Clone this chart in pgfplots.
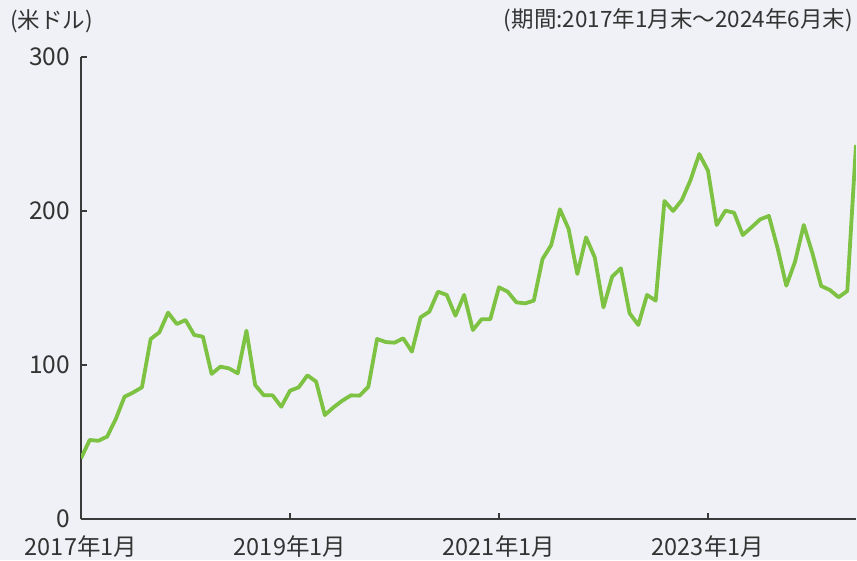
\documentclass[border=0pt]{standalone}
\usepackage{fontspec}
\setmainfont{Noto Sans CJK JP}
\usepackage{pgfplots}
\pgfplotsset{compat=1.18}
\definecolor{bg}{RGB}{240,241,246}
\definecolor{linegreen}{RGB}{125,194,66}
\definecolor{txt}{RGB}{51,51,51}
\definecolor{axiscol}{RGB}{58,58,58}
\begin{document}
\begin{tikzpicture}[x=1pt,y=1pt]
\useasboundingbox (0,0) rectangle (857,560);
\fill[bg] (0,0) rectangle (857,560);
\node[anchor=west,inner sep=0pt,text=txt,font=\fontsize{22.5}{26}\selectfont] at (10,539) {(米ドル)};
\node[anchor=east,inner sep=0pt,text=txt,font=\fontsize{22.5}{26}\selectfont] at (853,540) {(期間:2017年1月末～2024年6月末)};
\begin{axis}[
  at={(81pt,41pt)}, anchor=south west,
  scale only axis, width=775pt, height=462pt,
  xmin=0, xmax=89, ymin=0, ymax=300,
  axis lines*=left,
  axis line style={axiscol, line width=1.3pt},
  tick style={axiscol, line width=1.1pt},
  tick align=inside, major tick length=6pt,
  ytick={0,100,200,300},
  xtick={0,24,48,72},
  xticklabels={2017年1月,2019年1月,2021年1月,2023年1月},
  /pgf/number format/assume math mode=true,
  yticklabel style={text=txt, font=\fontsize{24.5}{28}\selectfont, inner sep=0pt, xshift=-11pt},
  xticklabel style={text=txt, font=\fontsize{23.5}{28}\selectfont, anchor=base, inner sep=0pt, yshift=-36pt},
]
\addplot[linegreen, line width=3.8pt, line join=round] table {
0 39.4
1 51.3
2 50.8
3 53.5
4 65
5 79.4
6 82.2
7 85.5
8 116.9
9 121.2
10 134
11 126.6
12 129.2
13 119.5
14 118.4
15 94.2
16 98.9
17 97.8
18 94.6
19 122.3
20 87
21 80.3
22 80.3
23 72.9
24 83.3
25 85.5
26 93.3
27 89.2
28 67.5
29 72.5
30 76.8
31 80.3
32 80.1
33 85.9
34 116.9
35 114.9
36 114.5
37 117.3
38 108.7
39 131
40 134.6
41 147.6
42 145.5
43 132
44 145.5
45 122.7
46 129.7
47 129.7
48 150.5
49 147.6
50 140.7
51 140
52 141.8
53 168.8
54 177.9
55 201.1
56 188.3
57 159.1
58 182.9
59 169.9
60 137.4
61 157.4
62 162.8
63 133.6
64 126
65 145.5
66 141.8
67 206.5
68 200
69 207.1
70 220.1
71 237
72 226.2
73 190.9
74 200.2
75 198.9
76 184.4
77 189.4
78 194.6
79 196.8
80 175.8
81 151.5
82 167.1
83 190.9
84 172.5
85 151.3
86 148.7
87 144
88 148.1
89 242.9
};
\end{axis}
\end{tikzpicture}
\end{document}
